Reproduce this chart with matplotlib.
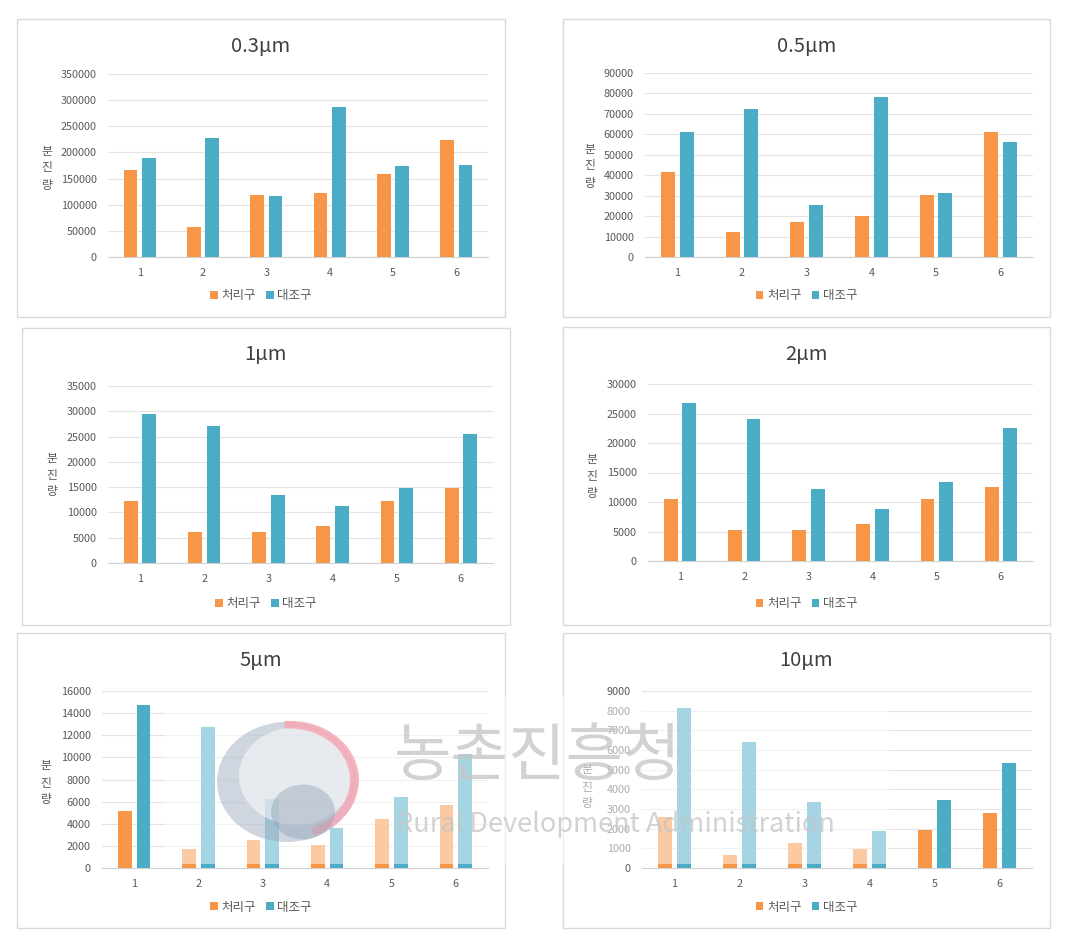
import matplotlib
matplotlib.use("Agg")
import matplotlib.pyplot as plt
from matplotlib.patches import Rectangle, Circle, Wedge
import numpy as np

plt.rcParams['font.family'] = ['Noto Sans CJK KR', 'DejaVu Sans']

W, H = 1092, 936

categories = [1, 2, 3, 4, 5, 6]
series_names = ["처리구", "대조구"]
titles = ["0.3μm", "0.5μm", "1μm", "2μm", "5μm", "10μm"]

treat_03 = [165500, 57300, 119000, 121500, 158500, 224600]
ctrl_03 = [190300, 228500, 117100, 287000, 173100, 175600]
treat_05 = [41400, 12100, 17000, 20200, 30500, 61000]
ctrl_05 = [61000, 72400, 25600, 78400, 31100, 56300]
treat_1 = [12300, 6200, 6200, 7400, 12300, 14900]
ctrl_1 = [29500, 27100, 13400, 11300, 14900, 25500]
treat_2 = [10500, 5300, 5300, 6300, 10500, 12500]
ctrl_2 = [26700, 24100, 12200, 8800, 13400, 22600]
treat_5 = [5130, 1750, 2500, 2110, 4470, 5680]
ctrl_5 = [14700, 12740, 6220, 3620, 6430, 10300]
treat_10 = [2600, 680, 1290, 950, 1950, 2790]
ctrl_10 = [8150, 6420, 3360, 1870, 3450, 5320]

treat = [treat_03, treat_05, treat_1, treat_2, treat_5, treat_10]
ctrl = [ctrl_03, ctrl_05, ctrl_1, ctrl_2, ctrl_5, ctrl_10]
ymax = [350000, 90000, 35000, 30000, 16000, 9000]
ystep = [50000, 10000, 5000, 5000, 2000, 1000]
ylabel = "분진량"

orange = "#F79646"
blue = "#4BACC6"


def fx(x):
    return x / W


def fy(y):
    return 1 - y / H


# panel layout in pixels: box (x0, y0, x1, y1), plot (x0, y0, x1, y1)
boxes = [(17, 19, 505, 317), (563, 19, 1050, 317),
         (22, 328, 510, 625), (563, 327, 1050, 625),
         (17, 633, 505, 928), (563, 633, 1050, 928)]
plots = [(108, 74, 488, 257), (645, 73, 1033, 257),
         (108, 386, 493, 563), (648, 384, 1033, 561),
         (102, 691, 488, 868), (642, 691, 1032, 868)]
ylab_pos = [(47, 168), (590, 166), (52, 475), (592, 477), (46, 783), (587, 787)]

fig = plt.figure(figsize=(W / 100, H / 100), dpi=100)
fig.patch.set_facecolor("white")

x = np.array(categories)
bw = 0.215
for i in range(6):
    bx0, by0, bx1, by1 = boxes[i]
    fig.patches.append(Rectangle((fx(bx0), fy(by1)), fx(bx1 - bx0), (by1 - by0) / H,
                                 transform=fig.transFigure, fill=False,
                                 edgecolor="#D9D9D9", linewidth=1.0))
    px0, py0, px1, py1 = plots[i]
    ax = fig.add_axes([fx(px0), fy(py1), fx(px1 - px0), (py1 - py0) / H])
    ax.bar(x - 0.145, treat[i], width=bw, color=orange, label=series_names[0], zorder=3)
    ax.bar(x + 0.145, ctrl[i], width=bw, color=blue, label=series_names[1], zorder=3)
    ax.set_xlim(0.5, 6.5)
    ax.set_ylim(0, ymax[i])
    ax.set_yticks(np.arange(0, ymax[i] + 1, ystep[i]))
    ax.set_xticks(x)
    ax.set_xticklabels([str(c) for c in categories])
    ax.tick_params(length=0, labelsize=7.8, colors="#595959", pad=8)
    ax.yaxis.grid(True, color="#E3E3E3", linewidth=0.8, zorder=0)
    for s in ["top", "right", "left"]:
        ax.spines[s].set_visible(False)
    ax.spines["bottom"].set_color("#D0D0D0")
    ax.set_facecolor("none")

    cx = (bx0 + bx1) / 2
    fig.text(fx(cx), fy(by0 + 27), titles[i], ha="center", va="center",
             fontsize=14.5, color="#404040")
    lx, ly = ylab_pos[i]
    for k, ch in enumerate(ylabel):
        fig.text(fx(lx), fy(ly + (k - 1) * 17), ch, ha="center", va="center",
                 fontsize=8.5, color="#595959")
    ax.legend(loc="center", bbox_to_anchor=(fx(cx), fy(by1 - 21)),
              bbox_transform=fig.transFigure, ncol=2, frameon=False,
              fontsize=9, handlelength=0.6, handleheight=0.6,
              handletextpad=0.3, columnspacing=0.8, labelcolor="#595959")

# watermark
fig.patches.append(Rectangle((fx(165), fy(864)), fx(890 - 165), (864 - 695) / H,
                             transform=fig.transFigure, facecolor="white",
                             edgecolor="none", alpha=0.5, zorder=5))
fig.patches.append(Circle((fx(287), fy(782)), 70 / W, transform=fig.transFigure,
                          facecolor="#95A5B8", edgecolor="none", alpha=0.45, zorder=6))
fig.patches.append(Circle((fx(296), fy(776)), 57 / W, transform=fig.transFigure,
                          facecolor="white", edgecolor="none", alpha=0.5, zorder=7))
fig.patches.append(Wedge((fx(290), fy(780)), 69 / W, -70, 95, width=9 / W,
                         transform=fig.transFigure, facecolor="#F4A8B5",
                         edgecolor="none", alpha=0.85, zorder=8))
fig.patches.append(Circle((fx(303), fy(812)), 32 / W, transform=fig.transFigure,
                          facecolor="#95A5B8", edgecolor="none", alpha=0.45, zorder=8))
fig.text(fx(538), fy(757), "농촌진흥청", ha="center", va="center", fontsize=45,
         color="#C4C4C4", alpha=0.75, zorder=9)
fig.text(fx(615), fy(824), "Rural Development Administration", ha="center",
         va="center", fontsize=19.5, color="#C4C4C4", alpha=0.75, zorder=9)

fig.savefig("out.png", dpi=100, facecolor="white")
